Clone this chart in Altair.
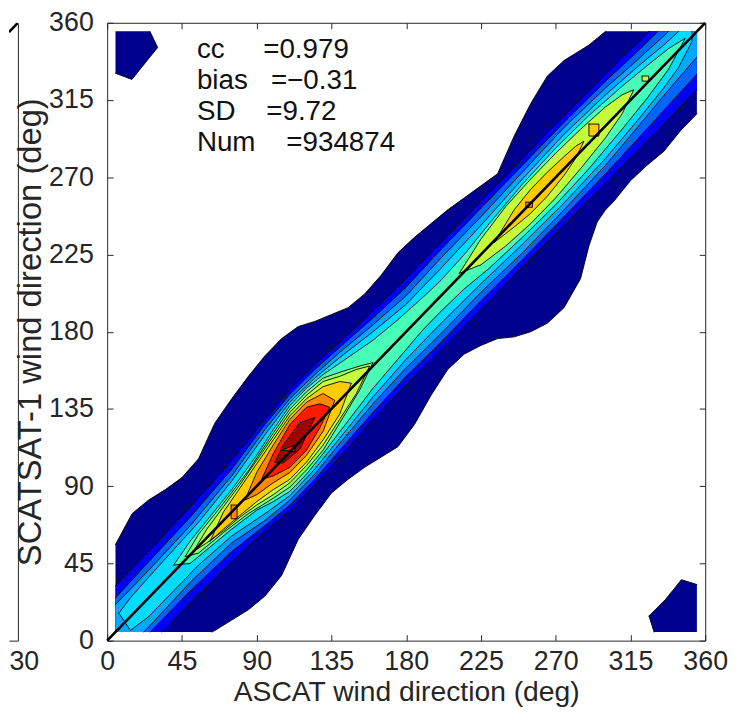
import altair as alt
import numpy as np
import pandas as pd

# ---------------- values ----------------
TICKS = [0, 45, 90, 135, 180, 225, 270, 315, 360]
X_TITLE = "ASCAT wind direction (deg)"
Y_TITLE = "SCATSAT-1 wind direction (deg)"
STAT_NAMES = ["cc", "bias", "SD", "Num"]
STAT_VALUES = ["0.979", "\u22120.31", "9.72", "934874"]
STAT_GAPS = [5, 3, 4, 4]
STAT_ANCHOR = [54, 352]
GRID = (5, 355)           # extent of the gridded field
DIAG = [0, 360]
NB_TICK = [30]            # neighbouring panel (cut off at the left)
NB_X = [29.55, 30]

COLORS = ["#00008F", "#0000FF", "#0064FF", "#00A8FF", "#00DCFF", "#48FFB8",
          "#8CFF74", "#C4FF3A", "#FFCC00", "#FF8800", "#FF1A00", "#A00000"]

# outermost (navy) contour: absolute top / bottom y at x
NAVY_X = [5, 15, 25, 35, 45, 55, 63, 65, 75, 85, 95, 105, 115, 125, 135, 145, 155, 165, 175, 185,
          195, 205, 215, 225, 235, 245, 255, 265, 275, 285, 290, 295, 300, 305, 315, 325, 335, 345, 355]
NAVY_TOP = [56, 74, 82, 88, 95, 106, 123, 127, 141, 154, 166, 176, 183, 186, 190, 194, 202, 213, 226, 235,
            243, 251, 258, 265, 272, 294, 313, 329, 338, 344, 347, 351, 355, 355, 355, 355, 355, 355, 355]
NAVY_BOT = [5, 5, 5, 5, 5, 5, 5, 6, 12, 18, 26, 38, 59, 73, 86, 94, 101, 107, 113, 126,
            143, 158, 167, 172, 176, 177, 180, 185, 194, 211, 230, 244, 251, 256, 268, 277, 285, 297, 307]
TL_X = [5, 14.9, 25.7, 30.4]
TL_TOP = [355, 355, 355, 345.6]
TL_BOT = [330.6, 327, 340, 345.6]
BR_X = [326.2, 329.2, 336.1, 345.7, 355]
BR_TOP = [14.4, 17.3, 24, 35.5, 32.7]
BR_BOT = [14.4, 5, 5, 5, 5]

# inner contours: offsets above (UP) and below (DN) the 1:1 line at x
FULL_X = [5, 25, 50, 75, 95, 110, 125, 140, 160, 180, 200, 225, 250, 275, 300, 320, 338, 355]
L1_UP = [27, 27, 28, 30, 34, 36, 36, 34, 32, 31, 31, 31, 31, 31, 30, 29, 29, 29]
L1_DN = [28, 28, 28, 29, 31, 34, 34, 33, 31, 31, 31, 32, 32, 33, 33, 34, 34, 34]
L2_UP = [20, 21, 22, 25, 31, 33.5, 33, 31, 28, 26, 27, 27, 27, 27, 26, 24, 23, 22]
L2_DN = [21, 21, 21, 23, 28, 31, 31, 29, 27, 26, 27, 27, 28, 28, 28, 27, 26, 25]
L3_UP = [16, 16, 17, 21, 28, 31, 30, 28, 24, 21, 22, 22, 23, 24, 22, 19, 17, 15]
L3_DN = [17, 17, 16, 18, 25, 28, 28, 25, 22, 21, 22, 22, 24, 24, 23, 20, 17, 15]
L4_X = [7, 14, 25, 40, 55, 75, 95, 110, 125, 140, 160, 180, 200, 225, 250, 275, 300, 320, 335, 344, 352]
L4_UP = [9, 11, 12, 13, 14, 18, 25, 29, 28, 25, 20, 16, 16, 17, 19, 20, 18, 15, 12, 11, 3]
L4_DN = [-9, 8, 11, 11, 11, 14, 21, 25.5, 25, 22, 18, 16, 16, 17, 19, 20, 19, 16, 13, 10, 3]
L5_X = [40, 50, 60, 75, 90, 100, 110, 120, 130, 145, 160, 175, 190, 200, 215, 230, 250, 270, 290, 310, 325, 338, 348]
L5_UP = [4, 8, 10, 13, 18, 23, 27, 27, 25, 20, 15, 12, 10, 9, 10, 13, 16, 17, 16, 13, 10, 7, 3]
L5_DN = [-4, 5, 7, 10, 14, 19, 23, 23, 21, 17, 13, 11, 9, 9, 10, 13, 15, 16, 15, 12, 9, 5, -3]
L6_X = [47, 55, 70, 85, 100, 110, 120, 130, 142, 152, 160]
L6_UP = [2, 7, 10, 14, 21, 25, 25, 23, 15, 8, 2]
L6_DN = [-2, 4, 7, 11, 17, 20.5, 20.5, 19, 12, 6, -2]
L7A_X = [52, 60, 70, 80, 90, 100, 110, 120, 130, 140, 150, 158]
L7A_UP = [0, 5, 8, 11, 15, 19, 23, 23, 21, 14, 8, 2]
L7A_DN = [0, 3, 6, 8, 11, 15, 18, 18, 16, 11, 6, -2]
L7B_X = [212, 225, 240, 255, 270, 285, 300, 310, 317]
L7B_UP = [2, 9, 13, 14, 14, 13, 11, 8, 4]
L7B_DN = [-2, 6, 10, 12, 12, 10, 7, 3, -4]
L7C_X = [322, 326]
L7C_UP = [7, 3]
L7C_DN = [-4, 0]
L8A_X = [62, 70, 80, 90, 100, 110, 120, 130, 140, 147]
L8A_UP = [-4, 5, 9, 13, 17, 21, 21, 18, 11, 3]
L8A_DN = [4, 5, 7, 9, 12, 16, 16, 13, 8, -3]
L8B_X = [233, 245, 255, 265, 275, 282, 287]
L8B_UP = [-1, 6, 8, 8, 7, 6, 4]
L8B_DN = [1, 4, 6, 6, 4, 1, -4]
L8C_X = [290, 296]
L8C_UP = [11, 5]
L8C_DN = [-4, 2]
L9A_X = [83, 90, 100, 110, 120, 130, 137]
L9A_UP = [-1, 8, 14, 19, 19, 14, 3]
L9A_DN = [1, 5, 8, 12, 12, 8, -3]
L9B_X = [74.6, 78.2]
L9B_UP = [4.4, 0.8]
L9B_DN = [3.6, 7.2]
L9C_X = [252, 256]
L9C_UP = [3.5, -0.5]
L9C_DN = [-0.5, 3.5]
L10_X = [93, 100, 110, 120, 128, 134]
L10_UP = [1, 9, 16, 16, 10, 2]
L10_DN = [-1, 4, 9, 9, 4, -2]
L11_X = [101, 106, 116, 125]
L11_UP = [3, 8, 11, 5]
L11_DN = [-3, 2.5, 4.5, -5]
TRI_X = [105, 113]
TRI_UP = [6, 1]
TRI_DN = [-6, 3]

LEVELS = [
    (COLORS[0], [("abs", NAVY_X, NAVY_TOP, NAVY_BOT), ("abs", TL_X, TL_TOP, TL_BOT),
                 ("abs", BR_X, BR_TOP, BR_BOT)]),
    (COLORS[1], [("off", FULL_X, L1_UP, L1_DN)]),
    (COLORS[2], [("off", FULL_X, L2_UP, L2_DN)]),
    (COLORS[3], [("off", FULL_X, L3_UP, L3_DN)]),
    (COLORS[4], [("off", L4_X, L4_UP, L4_DN)]),
    (COLORS[5], [("off", L5_X, L5_UP, L5_DN)]),
    (COLORS[6], [("off", L6_X, L6_UP, L6_DN)]),
    (COLORS[7], [("off", L7A_X, L7A_UP, L7A_DN), ("off", L7B_X, L7B_UP, L7B_DN),
                 ("off", L7C_X, L7C_UP, L7C_DN)]),
    (COLORS[8], [("off", L8A_X, L8A_UP, L8A_DN), ("off", L8B_X, L8B_UP, L8B_DN),
                 ("off", L8C_X, L8C_UP, L8C_DN)]),
    (COLORS[9], [("off", L9A_X, L9A_UP, L9A_DN), ("off", L9B_X, L9B_UP, L9B_DN),
                 ("off", L9C_X, L9C_UP, L9C_DN)]),
    (COLORS[10], [("off", L10_X, L10_UP, L10_DN)]),
    (COLORS[11], [("off", L11_X, L11_UP, L11_DN)]),
    (COLORS[10], [("off", TRI_X, TRI_UP, TRI_DN)]),
]

# ---------------- geometry helpers ----------------
LO, HI = GRID


def clip_curve(xs, ys):
    px, py = [xs[0]], [ys[0]]
    for i in range(1, len(xs)):
        x0, y0, x1, y1 = xs[i - 1], ys[i - 1], xs[i], ys[i]
        cuts = []
        for c in (LO, HI):
            if (y0 - c) * (y1 - c) < 0:
                t = (c - y0) / (y1 - y0)
                cuts.append((x0 + t * (x1 - x0), c))
        for cx, cy in sorted(cuts):
            px.append(cx)
            py.append(cy)
        px.append(x1)
        py.append(y1)
    py = [min(max(v, LO), HI) for v in py]
    return px, py


def blob_frame(kind, xs, a, b):
    if kind == "off":
        top = [x + u for x, u in zip(xs, a)]
        bot = [x - d for x, d in zip(xs, b)]
    else:
        top, bot = list(a), list(b)
    tx, ty = clip_curve(xs, top)
    bx, by = clip_curve(xs, bot)
    xx = sorted(set(tx) | set(bx))
    return xx, list(np.interp(xx, tx, ty)), list(np.interp(xx, bx, by))


def near(a, b):
    return abs(a - b) < 1e-9


def on_clip(p, q):
    sx = near(p[0], q[0]) and (near(p[0], LO) or near(p[0], HI))
    sy = near(p[1], q[1]) and (near(p[1], LO) or near(p[1], HI))
    return sx or sy


def outline_runs(pts):
    runs, cur = [], []
    for p, q in zip(pts[:-1], pts[1:]):
        if on_clip(p, q):
            if len(cur) > 1:
                runs.append(cur)
            cur = []
        else:
            if not cur:
                cur = [p]
            cur.append(q)
    if len(cur) > 1:
        runs.append(cur)
    return runs


# ---------------- chart ----------------
FONT = "Liberation Sans"
INK = "#262626"
W, H = 603, 623

x_scale = alt.Scale(domain=[0, 360], nice=False, zero=False)
y_scale = alt.Scale(domain=[0, 360], nice=False, zero=False)

x_axis = alt.Axis(values=TICKS, title=X_TITLE, grid=False, domain=False, tickSize=6, offset=-6,
                  tickColor=INK, tickWidth=1, labelFont=FONT, labelFontSize=27, labelColor=INK,
                  labelPadding=8, labelFlush=False, labelOverlap=False, titleFont=FONT,
                  titleFontSize=28.5, titleFontWeight="normal", titleColor=INK, titlePadding=3)
y_axis = alt.Axis(values=TICKS, title=Y_TITLE, grid=False, domain=False, tickSize=6, offset=-6,
                  tickColor=INK, tickWidth=1, labelFont=FONT, labelFontSize=27, labelColor=INK,
                  labelPadding=14, labelFlush=False, labelOverlap=False, titleFont=FONT,
                  titleFontSize=33, titleFontWeight="normal", titleColor=INK, titlePadding=1)
top_axis = alt.Axis(orient="top", values=TICKS, labels=False, title=None, grid=False, domain=False,
                    tickSize=6, offset=-6, tickColor=INK, tickWidth=1)
right_axis = alt.Axis(orient="right", values=TICKS, labels=False, title=None, grid=False, domain=False,
                      tickSize=6, offset=-6, tickColor=INK, tickWidth=1)


def ex():
    return alt.X("x:Q", scale=x_scale, axis=x_axis)


def ey():
    return alt.Y("y:Q", scale=y_scale, axis=y_axis)


layers = []
line_rows = []
run_id = 0
for color, blobs in LEVELS:
    rows = []
    for bi, (kind, xs, a, b) in enumerate(blobs):
        xx, yt, yb = blob_frame(kind, xs, a, b)
        for x, t, bt in zip(xx, yt, yb):
            rows.append({"x": x, "y": t, "y2": bt, "blob": bi})
        pts = list(zip(xx, yt)) + list(zip(xx[::-1], yb[::-1])) + [(xx[0], yt[0])]
        for run in outline_runs(pts):
            for k, (px, py) in enumerate(run):
                line_rows.append({"x": px, "y": py, "run": run_id, "k": k})
            run_id += 1
    layers.append(
        alt.Chart(pd.DataFrame(rows)).mark_area(color=color, interpolate="linear", opacity=1).encode(
            x=ex(), y=ey(), y2=alt.Y2("y2:Q"), detail="blob:N")
    )

lines = alt.Chart(pd.DataFrame(line_rows)).mark_line(
    color="black", strokeWidth=0.9, strokeJoin="round", strokeCap="round").encode(
    x=ex(), y=ey(), detail="run:N", order=alt.Order("k:Q"))

stat_text = "\n".join(
    n + "\u00a0" * g + "=" + v for n, g, v in zip(STAT_NAMES, STAT_GAPS, STAT_VALUES))
ann = alt.Chart(pd.DataFrame({"x": [STAT_ANCHOR[0]], "y": [STAT_ANCHOR[1]], "t": [stat_text]})).mark_text(
    align="left", baseline="top", lineBreak="\n", lineHeight=31, font=FONT, fontSize=28,
    color="#111111").encode(x=ex(), y=ey(), text="t:N")

content = alt.layer(*layers, lines, ann)

diag = alt.Chart(pd.DataFrame({"x": DIAG, "y": DIAG})).mark_line(
    color="black", strokeWidth=2.6).encode(
    x=alt.X("x:Q", scale=x_scale, axis=top_axis),
    y=alt.Y("y:Q", scale=y_scale, axis=right_axis))

main = alt.layer(content, diag).resolve_scale(x="independent", y="independent").properties(
    width=W, height=H)

nb = alt.Chart(pd.DataFrame({"x": NB_X, "y": NB_X})).mark_line(
    color="black", strokeWidth=2.6, clip=True).encode(
    x=alt.X("x:Q", scale=alt.Scale(domain=[NB_X[0], NB_X[1]], nice=False, zero=False),
            axis=alt.Axis(values=NB_TICK, format="d", title=None, grid=False, domain=True,
                          domainColor=INK, ticks=False, labelFont=FONT, labelFontSize=27,
                          labelColor=INK, labelPadding=8, labelAlign="left", labelOffset=-9,
                          labelFlush=False)),
    y=alt.Y("y:Q", scale=alt.Scale(domain=[0, NB_TICK[0]], nice=False, zero=False),
            axis=alt.Axis(orient="right", title=None, labels=False, ticks=False, grid=False,
                          domain=True, domainColor=INK)),
).properties(width=9, height=H, view=alt.ViewBackground(stroke="transparent"))

chart = alt.hconcat(nb, main, spacing=90, bounds="flush").properties(
    padding={"left": 0, "top": -3, "right": 0, "bottom": -2}
).configure_view(stroke=INK, strokeWidth=1)

chart.save("out.html", embed_options={"renderer": "svg", "actions": False})
